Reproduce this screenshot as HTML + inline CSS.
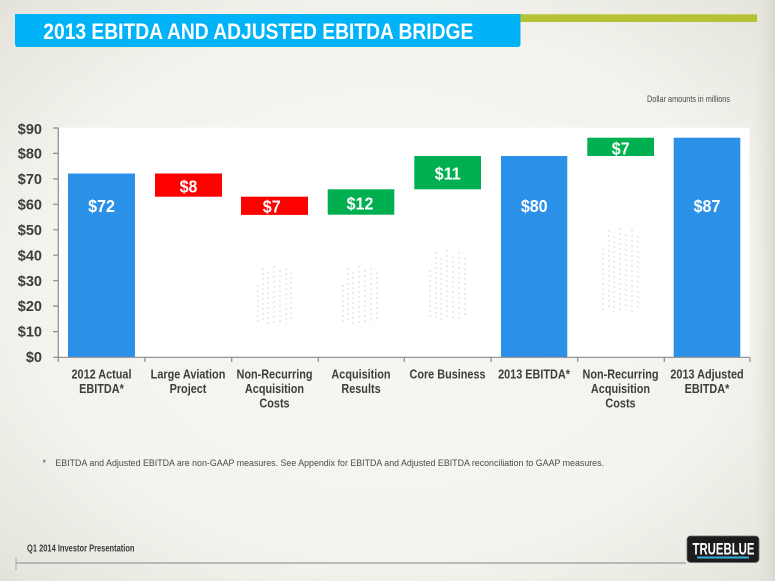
<!DOCTYPE html>
<html>
<head>
<meta charset="utf-8">
<style>
  html, body { margin:0; padding:0; }
  body { width:775px; height:581px; overflow:hidden; position:relative;
    background: radial-gradient(ellipse 75% 75% at 50% 50%, #f7f7f1 0%, #f4f4ee 60%, #e6e6df 90%, #d9d9d1 100%); }
  svg { position:absolute; left:0; top:0; }
  text { font-family: "Liberation Sans", Arial, sans-serif; }
</style>
</head>
<body>
<svg width="775" height="581" viewBox="0 0 775 581" xmlns="http://www.w3.org/2000/svg">
  <defs>
    <linearGradient id="rside" x1="0" x2="1" y1="0" y2="0">
      <stop offset="0" stop-color="#ebebe4" stop-opacity="0"/>
      <stop offset="1" stop-color="#d9d9d1" stop-opacity="1"/>
    </linearGradient>
  </defs>
  <rect x="750" y="0" width="25" height="581" fill="url(#rside)"/>

  <!-- title bar -->
  <path d="M15,14 H520.5 V44 Q520.5,47 517.5,47 H18 Q15,47 15,44 Z" fill="#00b3f8"/>
  <rect x="520.5" y="14.3" width="236.5" height="7.7" fill="#b5c233"/>
  <text x="43.3" y="39" font-size="22" font-weight="bold" fill="#ffffff" textLength="430" lengthAdjust="spacingAndGlyphs">2013 EBITDA AND ADJUSTED EBITDA BRIDGE</text>

  <text x="647" y="102" font-size="9.5" fill="#4a4a4a" textLength="83" lengthAdjust="spacingAndGlyphs">Dollar amounts in millions</text>

  <!-- plot area -->
  <rect x="58.3" y="127.7" width="691.2" height="229.6" fill="#ffffff"/>

  <!-- faint artifacts -->
  <g stroke="#d4d4d4" stroke-width="1" stroke-dasharray="2,3" fill="none" opacity="0.9">
    <path d="M258,285 V325 M263,268 V322 M268,272 V324 M274,266 V325 M280,270 V322 M286,268 V324 M291,272 V322"/>
    <path d="M343,285 V325 M348,268 V322 M353,272 V324 M359,266 V325 M365,270 V322 M371,268 V324 M377,272 V322"/>
    <path d="M430,270 V320 M436,252 V318 M441,258 V320 M447,250 V320 M453,256 V318 M459,252 V320 M465,258 V318"/>
    <path d="M603,248 V312 M609,230 V310 M614,236 V312 M620,228 V312 M626,234 V310 M632,230 V312 M638,236 V310"/>
  </g>

  <!-- bars -->
  <rect x="68" y="173.5" width="67" height="183.8" fill="#2b90e8"/>
  <rect x="155" y="173.5" width="67" height="23.2" fill="#ff0000"/>
  <rect x="241" y="196.7" width="67" height="18.2" fill="#ff0000"/>
  <rect x="327.7" y="189.3" width="66.6" height="25.4" fill="#00b050"/>
  <rect x="414.3" y="156" width="66.7" height="33.3" fill="#00b050"/>
  <rect x="501" y="156" width="66.3" height="201.3" fill="#2b90e8"/>
  <rect x="587.3" y="137.7" width="66.7" height="18.3" fill="#00b050"/>
  <rect x="673.7" y="137.7" width="66.6" height="219.6" fill="#2b90e8"/>

  <!-- bar labels -->
  <g font-size="18" font-weight="bold" fill="#ffffff" text-anchor="middle">
    <text transform="translate(101.5,212) scale(0.89,1)">$72</text>
    <text transform="translate(188.5,192.5) scale(0.89,1)">$8</text>
    <text transform="translate(271.7,212.3) scale(0.89,1)">$7</text>
    <text transform="translate(360,209.3) scale(0.89,1)">$12</text>
    <text transform="translate(447.7,179.3) scale(0.89,1)">$11</text>
    <text transform="translate(534.2,212) scale(0.89,1)">$80</text>
    <text transform="translate(620.7,154.3) scale(0.89,1)">$7</text>
    <text transform="translate(707,212) scale(0.89,1)">$87</text>
  </g>

  <!-- axes -->
  <g stroke="#8a8a8a" stroke-width="1.2" fill="none">
    <line x1="58.3" y1="127.7" x2="58.3" y2="357.3"/>
    <line x1="58.3" y1="357.3" x2="750" y2="357.3"/>
    <path d="M53,128 H58.3 M53,153.4 H58.3 M53,178.9 H58.3 M53,204.3 H58.3 M53,229.8 H58.3 M53,255.2 H58.3 M53,280.7 H58.3 M53,306.1 H58.3 M53,331.6 H58.3 M53,357.3 H58.3"/>
    <path d="M58.3,357.3 V362 M145,357.3 V362 M231.7,357.3 V362 M318.3,357.3 V362 M404.3,357.3 V362 M491,357.3 V362 M577.7,357.3 V362 M664.3,357.3 V362 M750,357.3 V362"/>
  </g>

  <!-- y tick labels -->
  <g font-size="14.5" font-weight="bold" fill="#3d3d3d" text-anchor="end">
    <text x="42" y="134">$90</text>
    <text x="42" y="158.5">$80</text>
    <text x="42" y="184">$70</text>
    <text x="42" y="209.4">$60</text>
    <text x="42" y="234.9">$50</text>
    <text x="42" y="260.3">$40</text>
    <text x="42" y="285.8">$30</text>
    <text x="42" y="311.2">$20</text>
    <text x="42" y="336.7">$10</text>
    <text x="42" y="362.2">$0</text>
  </g>

  <!-- x labels -->
  <g font-size="12.5" font-weight="bold" fill="#3d3d3d" text-anchor="middle">
    <text transform="translate(101.5,378.5) scale(0.87,1)">2012 Actual</text>
    <text transform="translate(101.5,393) scale(0.87,1)">EBITDA*</text>
    <text transform="translate(188,378.5) scale(0.87,1)">Large Aviation</text>
    <text transform="translate(188,393) scale(0.87,1)">Project</text>
    <text transform="translate(274.5,378.5) scale(0.87,1)">Non-Recurring</text>
    <text transform="translate(274.5,393) scale(0.87,1)">Acquisition</text>
    <text transform="translate(274.5,407.5) scale(0.87,1)">Costs</text>
    <text transform="translate(361,378.5) scale(0.87,1)">Acquisition</text>
    <text transform="translate(361,393) scale(0.87,1)">Results</text>
    <text transform="translate(447.5,378.5) scale(0.87,1)">Core Business</text>
    <text transform="translate(534,378.5) scale(0.87,1)">2013 EBITDA*</text>
    <text transform="translate(620.5,378.5) scale(0.87,1)">Non-Recurring</text>
    <text transform="translate(620.5,393) scale(0.87,1)">Acquisition</text>
    <text transform="translate(620.5,407.5) scale(0.87,1)">Costs</text>
    <text transform="translate(707,378.5) scale(0.87,1)">2013 Adjusted</text>
    <text transform="translate(707,393) scale(0.87,1)">EBITDA*</text>
  </g>

  <!-- footnote -->
  <text x="42.5" y="466" font-size="9" fill="#4a4a4a">*</text>
  <text x="55.4" y="466" font-size="9.5" fill="#4a4a4a" textLength="548.6" lengthAdjust="spacingAndGlyphs">EBITDA and Adjusted EBITDA are non-GAAP measures. See Appendix for EBITDA and Adjusted EBITDA reconciliation to GAAP measures.</text>

  <!-- footer -->
  <text x="27" y="551.5" font-size="10" font-weight="bold" fill="#3a3a3a" textLength="107.5" lengthAdjust="spacingAndGlyphs">Q1 2014 Investor Presentation</text>
  <line x1="16" y1="563" x2="686" y2="563" stroke="#a6a6a6" stroke-width="1.5"/>
  <line x1="16" y1="557" x2="16" y2="570" stroke="#a6a6a6" stroke-width="1"/>

  <!-- logo -->
  <rect x="687" y="536" width="72" height="26.5" rx="3.5" fill="#1c1c1c" stroke="#6a6a6a" stroke-width="0.8"/>
  <text x="692.5" y="554.5" font-size="17" font-weight="bold" fill="#ffffff" textLength="62" lengthAdjust="spacingAndGlyphs">TRUEBLUE</text>
  <rect x="697" y="556.5" width="52" height="2" fill="#35b2dc"/>
</svg>
</body>
</html>
